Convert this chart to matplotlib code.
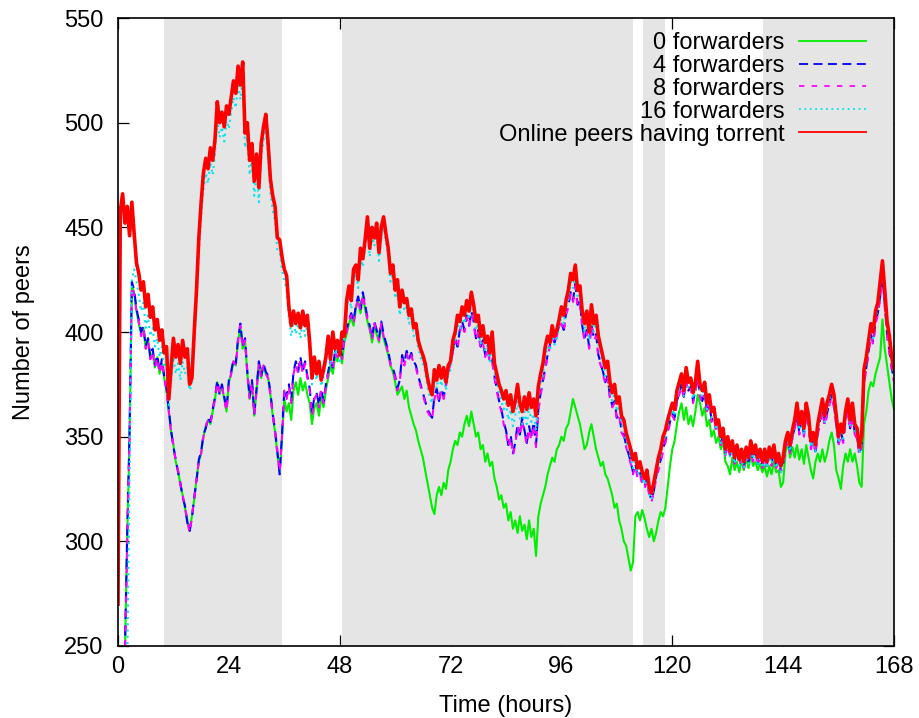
import numpy as np
import matplotlib
matplotlib.use("Agg")
import matplotlib.pyplot as plt

plt.rcParams["font.family"] = ["Liberation Sans", "DejaVu Sans"]

# Sampling times (hours), one sample every half hour
hours = np.arange(337) * 0.5

# Night periods (start, end) in hours
night_periods = [(10.0, 35.4), (48.5, 111.4), (113.6, 118.5), (139.6, 168.0)]

online_having_torrent = [
    270, 458, 466, 452, 460, 446, 462, 447, 433, 428, 420, 424, 412, 418, 407, 412, 401, 406, 396, 401,
    390, 393, 368, 383, 397, 388, 394, 385, 396, 388, 392, 375, 378, 400, 420, 445, 462, 476, 483, 478,
    488, 482, 492, 510, 500, 505, 498, 508, 504, 512, 520, 514, 527, 518, 529, 495, 500, 482, 490, 472,
    485, 469, 490, 498, 504, 490, 473, 465, 460, 445, 444, 436, 430, 427, 412, 403, 410, 404, 409, 402,
    410, 403, 408, 395, 378, 388, 380, 386, 377, 382, 388, 398, 387, 400, 392, 396, 389, 400, 398, 415,
    422, 415, 430, 432, 425, 440, 435, 444, 455, 440, 450, 445, 452, 438, 450, 455, 447, 440, 428, 432,
    420, 425, 412, 420, 414, 416, 408, 411, 402, 404, 396, 392, 389, 385, 378, 373, 370, 382, 377, 384,
    378, 383, 376, 384, 386, 396, 400, 408, 405, 412, 408, 415, 410, 419, 413, 405, 408, 398, 403, 395,
    398, 390, 400, 385, 380, 375, 372, 368, 372, 365, 370, 362, 367, 375, 366, 362, 369, 363, 371, 364,
    368, 360, 374, 380, 385, 393, 398, 395, 403, 398, 401, 406, 412, 408, 415, 420, 428, 425, 432, 420,
    422, 410, 404, 410, 400, 413, 404, 408, 398, 393, 388, 383, 386, 376, 371, 375, 366, 369, 360, 358,
    352, 348, 344, 339, 342, 335, 338, 333, 330, 334, 326, 323, 328, 334, 340, 344, 350, 353, 358, 362,
    366, 363, 372, 376, 380, 372, 383, 376, 378, 371, 376, 386, 375, 372, 376, 366, 370, 362, 364, 356,
    358, 350, 354, 344, 350, 343, 348, 340, 346, 339, 344, 338, 345, 340, 348, 342, 346, 340, 344, 338,
    344, 338, 345, 340, 346, 338, 342, 336, 340, 348, 352, 346, 353, 358, 366, 356, 362, 354, 366, 360,
    348, 352, 346, 356, 362, 368, 360, 366, 370, 375, 370, 360, 350, 356, 352, 362, 368, 358, 366, 356,
    354, 345, 350, 382, 388, 396, 404, 400, 410, 414, 424, 434, 420, 405, 398, 388, 382,
]

fwd16 = [
    150, 170, 190, 210, 240, 330, 425, 430, 424, 418, 410, 414, 402, 408, 398, 402, 393, 397, 388, 393,
    383, 385, 365, 376, 388, 380, 385, 377, 386, 380, 383, 372, 375, 394, 414, 438, 455, 468, 476, 471,
    481, 475, 485, 502, 493, 498, 491, 501, 497, 505, 512, 507, 519, 511, 521, 488, 493, 475, 483, 465,
    478, 462, 483, 491, 497, 483, 466, 458, 453, 439, 438, 430, 424, 421, 407, 398, 405, 399, 404, 397,
    405, 398, 403, 391, 375, 384, 377, 383, 374, 379, 385, 395, 384, 397, 389, 393, 386, 397, 395, 411,
    418, 411, 426, 428, 421, 436, 431, 440, 450, 436, 446, 441, 448, 434, 446, 450, 443, 436, 424, 428,
    416, 421, 408, 416, 410, 412, 404, 407, 398, 400, 392, 388, 385, 381, 374, 369, 366, 378, 373, 380,
    374, 379, 372, 380, 382, 392, 396, 404, 401, 408, 404, 411, 406, 415, 409, 401, 404, 394, 399, 391,
    394, 386, 395, 381, 376, 371, 367, 363, 366, 358, 363, 355, 360, 367, 359, 356, 362, 356, 364, 357,
    361, 353, 368, 375, 380, 388, 393, 391, 399, 394, 397, 402, 408, 404, 411, 416, 424, 421, 428, 416,
    418, 406, 400, 406, 396, 409, 400, 404, 394, 389, 384, 379, 382, 372, 367, 371, 362, 365, 356, 354,
    348, 344, 340, 335, 339, 332, 335, 330, 327, 331, 323, 320, 325, 331, 337, 341, 347, 350, 355, 359,
    363, 360, 369, 373, 377, 369, 380, 373, 375, 368, 373, 383, 372, 369, 373, 363, 367, 359, 361, 353,
    355, 347, 351, 341, 347, 340, 345, 337, 343, 336, 341, 335, 342, 337, 345, 339, 343, 337, 341, 335,
    341, 335, 342, 337, 343, 335, 339, 333, 337, 345, 349, 343, 350, 355, 363, 353, 359, 351, 363, 357,
    345, 349, 343, 353, 359, 365, 357, 363, 367, 372, 367, 357, 347, 353, 349, 359, 365, 355, 363, 353,
    351, 342, 347, 379, 385, 393, 401, 397, 407, 411, 421, 431, 417, 402, 395, 385, 379,
]

fwd8 = [
    150, 170, 195, 245, 300, 350, 422, 418, 410, 405, 398, 402, 392, 396, 387, 391, 383, 388, 380, 386,
    378, 372, 362, 352, 346, 338, 334, 327, 322, 316, 310, 304, 312, 320, 330, 338, 342, 350, 355, 358,
    356, 362, 368, 376, 371, 374, 368, 362, 376, 380, 386, 384, 396, 403, 392, 396, 380, 368, 376, 360,
    372, 385, 378, 384, 380, 378, 370, 360, 352, 342, 333, 350, 372, 368, 374, 366, 380, 385, 380, 387,
    380, 385, 378, 372, 360, 368, 370, 364, 372, 366, 374, 380, 386, 382, 390, 388, 394, 387, 397, 400,
    405, 408, 404, 412, 416, 410, 418, 412, 406, 402, 396, 404, 400, 396, 404, 398, 394, 390, 384, 382,
    378, 372, 376, 388, 384, 390, 386, 389, 385, 383, 378, 374, 370, 366, 362, 360, 358, 368, 372, 366,
    372, 368, 374, 380, 386, 390, 396, 392, 400, 404, 400, 407, 402, 409, 404, 396, 400, 392, 395, 388,
    392, 385, 386, 378, 372, 366, 362, 356, 352, 345, 350, 341, 346, 355, 350, 358, 352, 346, 354, 348,
    356, 345, 362, 370, 376, 382, 388, 393, 398, 394, 398, 402, 404, 400, 408, 412, 418, 414, 422, 412,
    414, 402, 396, 400, 392, 403, 396, 398, 388, 384, 380, 375, 378, 368, 364, 366, 358, 360, 352, 350,
    345, 341, 337, 332, 336, 330, 332, 327, 325, 329, 322, 319, 323, 330, 334, 338, 343, 347, 352, 356,
    360, 358, 366, 370, 374, 368, 377, 371, 373, 366, 371, 378, 369, 366, 370, 361, 365, 357, 359, 352,
    354, 346, 350, 341, 346, 340, 344, 337, 342, 336, 340, 335, 341, 337, 343, 338, 342, 336, 340, 335,
    340, 335, 341, 336, 342, 335, 338, 333, 336, 344, 348, 342, 349, 353, 360, 351, 357, 350, 361, 355,
    344, 348, 342, 351, 357, 362, 355, 360, 365, 369, 364, 355, 346, 351, 347, 357, 362, 353, 360, 351,
    349, 341, 345, 375, 382, 390, 398, 394, 404, 408, 416, 426, 412, 398, 390, 382, 376,
]

fwd4 = [
    150, 170, 195, 248, 305, 352, 424, 420, 411, 406, 400, 403, 393, 397, 388, 392, 384, 389, 381, 387,
    379, 373, 363, 353, 345, 339, 333, 328, 321, 317, 309, 305, 311, 321, 329, 339, 343, 351, 354, 359,
    357, 363, 369, 377, 370, 375, 369, 363, 377, 381, 387, 385, 397, 404, 393, 397, 381, 369, 377, 361,
    373, 386, 379, 385, 381, 379, 371, 361, 353, 343, 332, 351, 373, 369, 375, 367, 381, 386, 381, 388,
    381, 386, 379, 373, 361, 369, 371, 365, 373, 367, 375, 381, 387, 383, 391, 389, 395, 388, 398, 401,
    406, 409, 405, 413, 417, 411, 419, 413, 407, 403, 397, 405, 401, 397, 405, 399, 395, 391, 385, 383,
    379, 373, 377, 389, 385, 391, 387, 390, 386, 384, 379, 375, 371, 367, 363, 361, 359, 369, 373, 367,
    373, 369, 375, 381, 387, 391, 397, 393, 401, 405, 401, 408, 403, 410, 405, 397, 401, 393, 396, 389,
    393, 386, 387, 379, 373, 367, 363, 357, 353, 346, 351, 342, 347, 356, 351, 359, 353, 347, 355, 349,
    357, 346, 363, 371, 377, 383, 389, 394, 399, 395, 399, 403, 405, 401, 409, 413, 419, 415, 423, 413,
    415, 403, 397, 401, 393, 404, 397, 399, 389, 385, 381, 376, 379, 369, 365, 367, 359, 361, 353, 351,
    346, 342, 338, 333, 337, 331, 333, 328, 326, 330, 323, 320, 324, 331, 335, 339, 344, 348, 353, 357,
    361, 359, 367, 371, 375, 369, 378, 372, 374, 367, 372, 379, 370, 367, 371, 362, 366, 358, 360, 353,
    355, 347, 351, 342, 347, 341, 345, 338, 343, 337, 341, 336, 342, 338, 344, 339, 343, 337, 341, 336,
    341, 336, 342, 337, 343, 336, 339, 334, 337, 345, 349, 343, 350, 354, 361, 352, 358, 351, 362, 356,
    345, 349, 343, 352, 358, 363, 356, 361, 366, 370, 365, 356, 347, 352, 348, 358, 363, 354, 361, 352,
    350, 342, 346, 376, 383, 391, 399, 395, 405, 409, 417, 427, 413, 399, 391, 383, 377,
]

fwd0 = [
    150, 170, 195, 246, 302, 350, 422, 419, 410, 404, 399, 402, 392, 397, 387, 390, 383, 388, 380, 385,
    378, 372, 362, 352, 346, 338, 334, 327, 322, 316, 310, 305, 312, 320, 330, 338, 342, 350, 355, 358,
    356, 362, 368, 376, 371, 374, 368, 362, 376, 380, 386, 384, 396, 402, 392, 396, 380, 368, 376, 360,
    372, 385, 378, 384, 380, 378, 370, 360, 352, 342, 333, 348, 368, 362, 366, 358, 372, 376, 370, 378,
    372, 376, 370, 366, 356, 364, 366, 360, 369, 364, 372, 378, 384, 380, 388, 386, 392, 385, 395, 399,
    404, 407, 403, 411, 415, 409, 417, 411, 405, 401, 395, 403, 399, 395, 403, 397, 393, 389, 384, 381,
    376, 370, 372, 374, 368, 372, 364, 360, 356, 353, 348, 344, 340, 334, 328, 322, 316, 313, 322, 326,
    322, 328, 325, 334, 338, 344, 348, 346, 352, 350, 356, 360, 355, 362, 356, 350, 352, 344, 346, 338,
    342, 336, 338, 330, 326, 320, 322, 316, 318, 310, 314, 306, 310, 304, 312, 305, 308, 301, 310, 302,
    306, 293, 312, 318, 322, 326, 332, 336, 340, 338, 344, 346, 350, 348, 354, 356, 362, 368, 364, 360,
    356, 350, 344, 346, 352, 356, 350, 344, 340, 336, 338, 332, 330, 326, 322, 316, 318, 310, 306, 300,
    298, 292, 286, 290, 312, 314, 310, 315, 311, 306, 302, 306, 300, 304, 310, 314, 312, 316, 326, 336,
    344, 348, 356, 362, 366, 358, 364, 356, 360, 355, 362, 370, 366, 360, 364, 355, 358, 350, 353, 347,
    350, 344, 348, 338, 336, 332, 340, 334, 338, 333, 339, 334, 340, 335, 341, 336, 338, 334, 337, 333,
    336, 331, 336, 332, 338, 333, 334, 326, 328, 342, 348, 340, 345, 340, 346, 339, 344, 337, 346, 340,
    334, 330, 338, 342, 338, 344, 338, 342, 348, 352, 346, 334, 330, 325, 336, 342, 338, 344, 338, 342,
    336, 328, 326, 356, 362, 372, 376, 374, 380, 384, 388, 406, 392, 384, 376, 368, 363,
]

series = [
    ("0 forwarders", fwd0, "#00ee00", "-", 1.5),
    ("4 forwarders", fwd4, "#0000ff", (0, (5, 3)), 1.5),
    ("8 forwarders", fwd8, "#ff00ff", (0, (3, 4)), 1.5),
    ("16 forwarders", fwd16, "#00e5ee", (0, (1, 2)), 1.5),
    ("Online peers having torrent", online_having_torrent, "#ff0000", "-", 2.6),
]

fig = plt.figure(figsize=(9.19, 7.18), dpi=100)
ax = fig.add_axes([0.1284, 0.1003, 0.9728 - 0.1284, 0.9749 - 0.1003])

for start, end in night_periods:
    ax.axvspan(start, end, facecolor="#e5e5e5", edgecolor="none", zorder=2.6)

for i, (label, vals, color, ls, lw) in enumerate(series):
    ax.plot(hours, vals, color=color, linestyle=ls, linewidth=lw, label=label, zorder=3 + i)

ax.set_xlim(0, 168)
ax.set_ylim(250, 550)
ax.set_xticks(np.arange(0, 169, 24))
ax.set_yticks(np.arange(250, 551, 50))

ax.tick_params(direction="in", length=8, width=0.9, top=True, right=True,
               labelsize=17, colors="black")
ax.tick_params(axis="y", pad=10.5)
ax.tick_params(axis="x", pad=7.5)
for sp in ax.spines.values():
    sp.set_linewidth(1.2)
    sp.set_zorder(20)

ax.set_xlabel("Time (hours)", fontsize=17, labelpad=12)
ax.set_ylabel("Number of peers", fontsize=17, labelpad=21)

leg = ax.legend(loc="upper right", bbox_to_anchor=(0.964, 0.978), frameon=False,
                markerfirst=False, fontsize=17, handlelength=2.85, handletextpad=0.6,
                labelspacing=0.04, borderpad=0, borderaxespad=0)
for handle in leg.get_lines():
    handle.set_linewidth(1.3)
leg.set_zorder(30)

fig.savefig("out.png", dpi=100)
